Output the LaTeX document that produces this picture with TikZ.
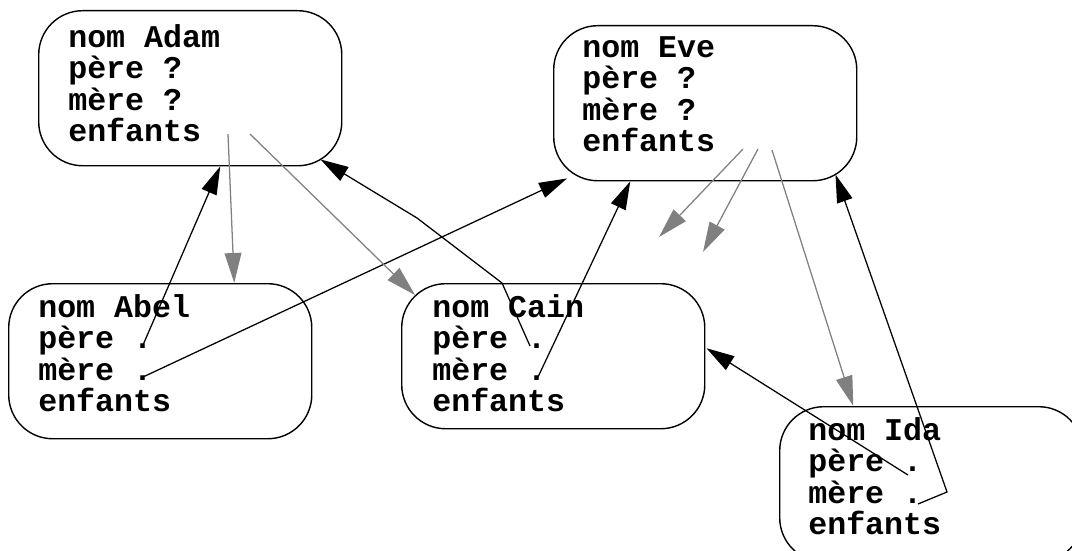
\documentclass[tikz,border=0pt]{standalone}
\usepackage{fontspec}
\setmonofont{Liberation Mono}
\usetikzlibrary{arrows.meta}

\begin{document}
\begin{tikzpicture}[x=0.025cm,y=-0.025cm,
    box/.style={draw, line width=1pt, rounded corners=1.1cm, minimum width=7.575cm,
        minimum height=3.875cm, anchor=north west, inner sep=0pt},
    txt/.style={font=\ttfamily\bfseries\fontsize{22.5}{22.4}\selectfont, align=left,
        anchor=north west, inner sep=0pt},
    parent/.style={-{Triangle[length=0.7cm,width=0.4cm]}, line width=0.9pt},
    child/.style={-{Triangle[length=0.75cm,width=0.42cm]}, line width=0.9pt, gray}]
    \useasboundingbox (0,0) rectangle (1072,551);
    %boxes
    \node[box] (adam) at (38,10) {};
    \node[box] (eve) at (553,25) {};
    \node[box] (abel) at (8,283) {};
    \node[box, minimum height=3.625cm] (cain) at (401,283) {};
    \node[box] (ida) at (779,406) {};
    %labels
    \node[txt] (adamtxt) at (68,24) {nom Adam\\père ?\\mère ?\\enfants};
    \node[txt] (evetxt) at (582,36) {nom Eve\\père ?\\mère ?\\enfants};
    \node[txt] (abeltxt) at (38,294) {nom Abel\\père .\\mère .\\enfants};
    \node[txt] (caintxt) at (432,294) {nom Cain\\père .\\mère .\\enfants};
    \node[txt] (idatxt) at (808,417) {nom Ida\\père .\\mère .\\enfants};
    %fields
    \coordinate (abelpere) at (143,345);
    \coordinate (abelmere) at (143,377);
    \coordinate (cainpere) at (530,346);
    \coordinate (cainmere) at (538,377);
    \coordinate (idapere) at (908,475);
    \coordinate (idamere) at (918,504);
    \coordinate (adamenf1) at (228,134);
    \coordinate (adamenf2) at (250,134);
    \coordinate (eveenf1) at (743,149);
    \coordinate (eveenf2) at (758,149);
    \coordinate (eveenf3) at (772,150);
    \coordinate (evefree1) at (659,237);
    \coordinate (evefree2) at (703,252);
    %parents
    \draw[parent] (abelpere) -- ([shift={(30,0)}]adam.south);
    \draw[parent] (abelmere) -- ([shift={(14,-3)}]eve.south west);
    \draw[parent] (cainpere) -- (502,283) -- (417,218) -- ([shift={(-22,-7)}]adam.south east);
    \draw[parent] (cainmere) -- ([shift={(-75,0)}]eve.south);
    \draw[parent] (idapere) -- ([shift={(1,-8)}]cain.east);
    \draw[parent] (idamere) -- (947,492) -- ([shift={(-22,-7)}]eve.south east);
    %children
    \draw[child] (adamenf1) -- ([shift={(74,0)}]abel.north);
    \draw[child] (adamenf2) -- ([shift={(14,12)}]cain.north west);
    \draw[child] (eveenf1) -- (evefree1);
    \draw[child] (eveenf2) -- (evefree2);
    \draw[child] (eveenf3) -- ([shift={(-78,0)}]ida.north);
\end{tikzpicture}
\end{document}
